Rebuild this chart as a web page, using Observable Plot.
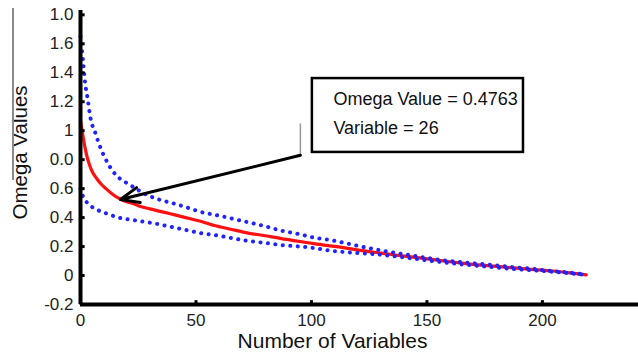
<!DOCTYPE html>
<html>
<head>
<meta charset="utf-8">
<script src="https://cdn.jsdelivr.net/npm/d3@7"></script>
<script src="https://cdn.jsdelivr.net/npm/@observablehq/plot@0.6"></script>
<style>
  html, body { margin: 0; padding: 0; background: #fff; }
  #wrap { position: relative; width: 638px; height: 359px; }
  #edge { position: absolute; left: 12px; top: 8px; width: 1.5px; height: 172px; background: #8a8a8a; }
</style>
</head>
<body>
<div id="wrap"><div id="edge"></div></div>
<script>
// Red curve (mean omega)
const redX = [0,1,2,3,4,5,7,9,11,14,17,20,23,26,30,34,38,43,48,53,58,65,72,80,87,95,101,108,113,122,130,137,145,151,159,166,175,186,195,203,211,219];
const redY = [1.07,0.97,0.88,0.81,0.76,0.72,0.67,0.63,0.60,0.56,0.53,0.51,0.495,0.4763,0.46,0.445,0.43,0.41,0.39,0.37,0.345,0.32,0.295,0.275,0.255,0.235,0.22,0.205,0.195,0.172,0.155,0.14,0.125,0.113,0.097,0.084,0.07,0.055,0.043,0.033,0.02,0.005];
// Upper blue dotted bound
const upX = [0,1,2,3,4.3,6.5,8.7,11,14,17,21,25,29,35,41,47,53,58,65,72,80,87,95,101,108,113,120,127,135,145,155,165,175,185,195,205,213,219];
const upY = [1.65,1.5,1.33,1.23,1.09,0.98,0.88,0.80,0.72,0.67,0.63,0.59,0.555,0.52,0.495,0.465,0.435,0.42,0.395,0.37,0.34,0.31,0.285,0.262,0.245,0.23,0.205,0.183,0.16,0.135,0.11,0.092,0.078,0.062,0.047,0.03,0.018,0.006];
// Lower blue dotted bound
const loX = [0,1,3,6.5,11,16.5,24,32,41,47,53,58,65,72,80,87,95,101,108,113,120,127,135,145,155,165,175,185,195,205,213,219];
const loY = [0.60,0.55,0.50,0.46,0.43,0.40,0.38,0.36,0.33,0.31,0.29,0.28,0.26,0.24,0.225,0.21,0.20,0.19,0.172,0.164,0.155,0.148,0.135,0.115,0.095,0.077,0.063,0.048,0.037,0.025,0.013,0.004];

const xTicks = [0,50,100,150,200];
const yTickValues = [-0.2,0,0.2,0.4,0.6,0.8,1,1.2,1.4,1.6,1.8];
const yTickLabels = ["-0.2","0","0.2","0.4","0.6","0.0","1","1.2","1.4","1.6","1.0"];
const noteLines = ["Omega Value = 0.4763", "Variable = 26"];

const red = redX.map((x, i) => ({x, y: redY[i]}));
const up = upX.map((x, i) => ({x, y: upY[i]}));
const lo = loX.map((x, i) => ({x, y: loY[i]}));

const font = "'Liberation Sans', Arial, sans-serif";
const dotted = {stroke: "#1f24ff", strokeWidth: 4, strokeDasharray: "0.1 7.4", strokeLinecap: "round", curve: "monotone-x"};

const chart = Plot.plot({
  width: 638,
  height: 359,
  marginLeft: 80,
  marginRight: 0,
  marginTop: 10,
  marginBottom: 55,
  x: {domain: [0, 241.6]},
  y: {domain: [-0.2, 1.83]},
  style: {fontFamily: font, fontSize: "17px", color: "#222", background: "white"},
  marks: [
    Plot.axisX({ticks: xTicks, tickSize: 0, tickPadding: 9, label: null, fontSize: 17}),
    Plot.axisY({ticks: yTickValues, tickSize: 0, tickPadding: 7, label: null, fontSize: 17,
      tickFormat: d => yTickLabels[yTickValues.findIndex(v => Math.abs(v - d) < 1e-9)]}),
    Plot.line(red, {x: "x", y: "y", stroke: "#ff1010", strokeWidth: 3.2, curve: "monotone-x"}),
    Plot.line(up, {x: "x", y: "y", ...dotted}),
    Plot.line(lo, {x: "x", y: "y", ...dotted}),
    Plot.link([0], {x1: 95.2, x2: 95.2, y1: 0.83, y2: 1.05, stroke: "#999", strokeWidth: 1.5}),
    Plot.arrow([0], {x1: 95.2, y1: 0.83, x2: 17.3, y2: 0.525, stroke: "black", strokeWidth: 3, headLength: 10, headAngle: 45}),
    Plot.rect([0], {x1: 100.4, x2: 191.8, y1: 0.85, y2: 1.36, fill: "white", stroke: "black", strokeWidth: 2.5}),
    Plot.text(noteLines, {x: 109.5, y: (d, i) => [1.22, 1.02][i], text: d => d, textAnchor: "start", fontSize: 18, fill: "#111"}),
    Plot.link(yTickValues, {x1: 0, x2: 1.8, y1: d => d, y2: d => d, stroke: "black", strokeWidth: 3}),
    Plot.link(xTicks, {x1: d => d, x2: d => d, y1: -0.2, y2: -0.17, stroke: "black", strokeWidth: 3}),
    Plot.ruleX([0], {y1: -0.2, y2: 1.83, stroke: "black", strokeWidth: 4}),
    Plot.ruleY([-0.2], {stroke: "black", strokeWidth: 4}),
    Plot.text(["Omega Values"], {frameAnchor: "left", textAnchor: "middle", lineAnchor: "middle", rotate: -90, dx: -60, dy: -5, fontSize: 20.5, fill: "#111"}),
    Plot.text(["Number of Variables"], {frameAnchor: "bottom", textAnchor: "middle", lineAnchor: "middle", dy: 37, dx: -27, fontSize: 21, fill: "#111"})
  ]
});
document.getElementById("wrap").prepend(chart);
</script>
</body>
</html>
